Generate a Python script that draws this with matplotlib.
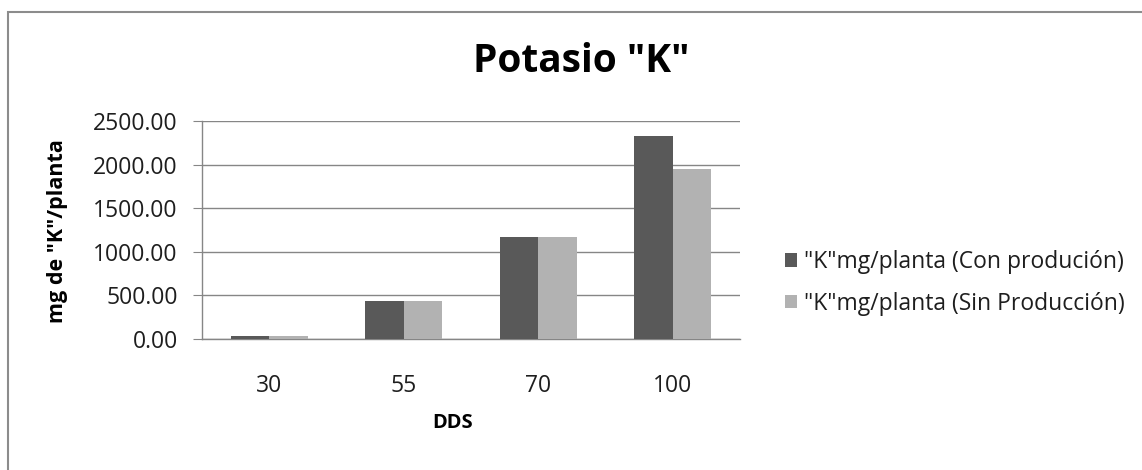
import matplotlib
matplotlib.use("Agg")
import matplotlib.pyplot as plt
from matplotlib.patches import Patch, Rectangle
import numpy as np

plt.rcParams["font.family"] = ["Open Sans", "DejaVu Sans"]

# Potassium uptake per plant by days after sowing
dds = ["30", "55", "70", "100"]
con_produccion = [30.0, 440.0, 1170.0, 2330.0]
sin_produccion = [30.0, 440.0, 1170.0, 1955.0]
series_labels = ['"K"mg/planta (Con produción)', '"K"mg/planta (Sin Producción)']
yticks = [0, 500, 1000, 1500, 2000, 2500]

W, H = 1142, 470
fig = plt.figure(figsize=(W / 100, H / 100), dpi=100)
fig.patch.set_facecolor("white")

# outer chart border
fig.patches.append(Rectangle((8 / W, -0.05), 1.2, (H - 12) / H + 0.05, transform=fig.transFigure,
                             fill=False, edgecolor="#8c8c8c", linewidth=1.5))

ax = fig.add_axes([202 / W, (H - 339) / H, (740 - 202) / W, (339 - 121) / H])
x = np.arange(len(dds))
w = 0.286
dark, light = "#595959", "#b2b2b2"
ax.bar(x - w / 2, con_produccion, width=w, color=dark, zorder=3)
ax.bar(x + w / 2, sin_produccion, width=w, color=light, zorder=3)

ax.set_xlim(-0.5, len(dds) - 0.5)
ax.set_ylim(0, 2500)
ax.set_yticks(yticks)
ax.set_yticklabels([f"{v:.2f}" for v in yticks])
ax.set_xticks(x)
ax.set_xticklabels(dds)
ax.grid(axis="y", color="#868686", linewidth=1.0, zorder=0)
for s in ["top", "right"]:
    ax.spines[s].set_visible(False)
for s in ["left", "bottom"]:
    ax.spines[s].set_color("#868686")
    ax.spines[s].set_linewidth(1.0)
ax.tick_params(axis="y", length=6.5, color="#868686", pad=11, labelsize=16.5, labelcolor="#1e1e1e")
ax.tick_params(axis="x", length=0, pad=25, labelsize=16.5, labelcolor="#1e1e1e")

fig.text(581 / W, 1 - 62 / H, 'Potasio "K"', ha="center", va="center", fontsize=28, fontweight="bold")
fig.text(58 / W, 1 - 231 / H, 'mg de "K"/planta', ha="center", va="center", rotation=90,
         fontsize=15.5, fontweight="bold")
fig.text(453 / W, 1 - 423 / H, "DDS", ha="center", va="center", fontsize=14.5, fontweight="bold")

handles = [Patch(facecolor=dark), Patch(facecolor=light)]
fig.legend(handles, series_labels, loc="center left", bbox_to_anchor=(764 / W, 1 - 283 / H),
           frameon=False, fontsize=16.5, handlelength=0.55, handleheight=0.55, handletextpad=0.3,
           labelspacing=0.75, labelcolor="#1e1e1e")

fig.savefig("out.png", dpi=100)
